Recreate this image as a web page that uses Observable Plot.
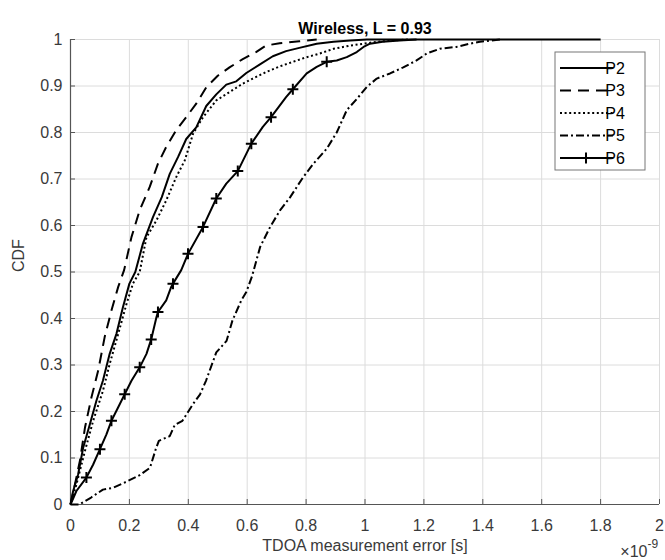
<!DOCTYPE html>
<html><head><meta charset="utf-8">
<script src="https://cdn.jsdelivr.net/npm/d3@7"></script>
<script src="https://cdn.jsdelivr.net/npm/@observablehq/plot@0.6"></script>
<style>
body{margin:0;background:#fff;}
#chart{width:665px;height:560px;overflow:hidden;}
</style>
</head><body><div id="chart"></div>
<script>
const titleText = "Wireless, L = 0.93";
const xLabelText = "TDOA measurement error [s]";
const yLabelText = "CDF";
const xExponentBase = "\u00d710";
const xExponent = "-9";
const xTicks = [0, 0.2, 0.4, 0.6, 0.8, 1, 1.2, 1.4, 1.6, 1.8, 2];
const yTicks = [0, 0.1, 0.2, 0.3, 0.4, 0.5, 0.6, 0.7, 0.8, 0.9, 1];
const seriesNames = ["P2", "P3", "P4", "P5", "P6"];

const p2 = [[0,0],[0.009,0.029],[0.026,0.065],[0.043,0.122],[0.066,0.173],[0.088,0.223],[0.11,0.266],[0.133,0.324],[0.156,0.367],[0.178,0.424],[0.2,0.475],[0.22,0.5],[0.246,0.561],[0.28,0.618],[0.31,0.661],[0.337,0.711],[0.365,0.747],[0.393,0.786],[0.427,0.811],[0.461,0.857],[0.495,0.882],[0.529,0.903],[0.563,0.91],[0.597,0.928],[0.642,0.946],[0.687,0.964],[0.732,0.975],[0.777,0.982],[0.836,0.991],[0.893,0.995],[0.95,0.998],[1.006,1.0],[1.8,1.0]];
const p3 = [[0,0],[0.015,0.043],[0.032,0.094],[0.049,0.165],[0.071,0.23],[0.094,0.288],[0.116,0.36],[0.139,0.417],[0.162,0.468],[0.182,0.504],[0.207,0.575],[0.235,0.633],[0.269,0.683],[0.297,0.733],[0.325,0.769],[0.359,0.805],[0.393,0.833],[0.427,0.862],[0.461,0.897],[0.5,0.922],[0.54,0.94],[0.585,0.958],[0.63,0.973],[0.664,0.987],[0.71,0.992],[0.777,0.996],[0.836,1.0]];
const p4 = [[0,0],[0.02,0.043],[0.049,0.115],[0.077,0.18],[0.11,0.244],[0.133,0.302],[0.162,0.367],[0.19,0.431],[0.212,0.475],[0.235,0.5],[0.258,0.575],[0.292,0.611],[0.325,0.654],[0.359,0.704],[0.388,0.74],[0.416,0.797],[0.45,0.833],[0.495,0.869],[0.54,0.887],[0.585,0.905],[0.619,0.916],[0.664,0.93],[0.71,0.942],[0.755,0.952],[0.802,0.962],[0.847,0.97],[0.893,0.98],[0.95,0.987],[0.995,0.991],[1.04,0.995],[1.096,0.998],[1.15,1.0]];
const p5 = [[0,0],[0.03,0.0],[0.07,0.015],[0.11,0.032],[0.145,0.036],[0.19,0.049],[0.235,0.063],[0.27,0.079],[0.29,0.12],[0.30,0.137],[0.337,0.147],[0.354,0.171],[0.38,0.18],[0.416,0.216],[0.44,0.237],[0.46,0.266],[0.495,0.327],[0.53,0.352],[0.55,0.396],[0.58,0.439],[0.597,0.457],[0.616,0.49],[0.644,0.554],[0.678,0.597],[0.712,0.633],[0.746,0.661],[0.79,0.704],[0.825,0.733],[0.87,0.765],[0.904,0.8],[0.938,0.848],[0.972,0.872],[1.006,0.898],[1.04,0.916],[1.085,0.927],[1.13,0.94],[1.175,0.955],[1.21,0.97],[1.254,0.98],[1.31,0.984],[1.356,0.991],[1.39,0.995],[1.46,1.0]];
const p6 = [[0,0],[0.02,0.029],[0.054,0.058],[0.077,0.086],[0.1,0.119],[0.122,0.151],[0.139,0.18],[0.162,0.209],[0.184,0.237],[0.207,0.266],[0.235,0.295],[0.258,0.324],[0.274,0.355],[0.292,0.403],[0.297,0.414],[0.325,0.439],[0.342,0.468],[0.348,0.475],[0.376,0.504],[0.399,0.539],[0.45,0.597],[0.495,0.658],[0.529,0.69],[0.568,0.717],[0.614,0.776],[0.653,0.812],[0.681,0.833],[0.732,0.876],[0.755,0.893],[0.802,0.927],[0.836,0.941],[0.87,0.952],[0.904,0.955],[0.938,0.962],[0.972,0.973],[0.995,0.984],[1.017,0.991],[1.06,0.995],[1.118,0.998],[1.175,1.0]];
const p6Markers = [[0.054,0.058],[0.1,0.119],[0.139,0.18],[0.184,0.237],[0.235,0.295],[0.274,0.355],[0.297,0.414],[0.348,0.475],[0.399,0.539],[0.45,0.597],[0.495,0.658],[0.568,0.717],[0.614,0.776],[0.681,0.833],[0.755,0.893],[0.87,0.952]];

const seriesData = [p2, p3, p4, p5, p6];
const dashes = ["none", "11,7", "2,2.6", "8,3,2,3", "none"];

const rows = [];
seriesData.forEach((arr, i) => arr.forEach(([x, y]) => rows.push({series: seriesNames[i], x, y})));
const markerRows = p6Markers.map(([x, y]) => ({x, y}));

const plusSymbol = {
  draw(context, size) {
    const r = Math.sqrt(size / Math.PI);
    context.moveTo(-r, 0); context.lineTo(r, 0);
    context.moveTo(0, -r); context.lineTo(0, r);
  }
};

const fmt = d => String(+d.toFixed(1));
const axisColor = "#3a3a3a";
const fontFamily = "'Liberation Sans', Arial, Helvetica, sans-serif";

const lineMarks = seriesNames.map((name, i) =>
  Plot.line(rows.filter(r => r.series === name), {
    x: "x", y: "y", stroke: "black", strokeWidth: 2,
    strokeDasharray: dashes[i] === "none" ? null : dashes[i],
    strokeLinecap: "butt", strokeLinejoin: "round"
  })
);

const chart = Plot.plot({
  width: 665, height: 560,
  marginLeft: 70, marginRight: 6, marginTop: 39, marginBottom: 56,
  x: {domain: [0, 2]},
  y: {domain: [0, 1]},
  style: {fontFamily, fontSize: "15px", color: axisColor, background: "white", overflow: "visible"},
  marks: [
    Plot.gridX(xTicks, {stroke: "#dcdcdc", strokeOpacity: 1, strokeWidth: 1}),
    Plot.gridY(yTicks, {stroke: "#dcdcdc", strokeOpacity: 1, strokeWidth: 1}),
    Plot.ruleY([0], {stroke: "#555", strokeWidth: 1.2}),
    Plot.ruleX([0], {stroke: "#555", strokeWidth: 1.2}),
    Plot.axisX(xTicks, {tickSize: 0, tickPadding: 15, tickFormat: fmt, label: null, fontSize: 16, fill: axisColor}),
    Plot.axisX(xTicks, {tickSize: -5, text: null, label: null, stroke: "#555"}),
    Plot.axisY(yTicks, {tickSize: 0, tickPadding: 8, tickFormat: fmt, label: null, fontSize: 16, fill: axisColor}),
    Plot.axisY(yTicks, {tickSize: -5, text: null, label: null, stroke: "#555"}),
    ...lineMarks,
    Plot.dot(markerRows, {x: "x", y: "y", symbol: plusSymbol, r: 5.5, stroke: "black", strokeWidth: 2, fill: "none"}),
    Plot.text([titleText], {frameAnchor: "top", dy: -17, fontWeight: "bold", fontSize: 16, fill: "black"}),
    Plot.text([xLabelText], {frameAnchor: "bottom", dy: 46, fontSize: 16, fill: axisColor}),
    Plot.text([yLabelText], {frameAnchor: "left", dx: -52, rotate: -90, fontSize: 16, fill: axisColor}),
    Plot.text([xExponentBase], {frameAnchor: "bottom-right", dx: -12, dy: 52, textAnchor: "end", fontSize: 16, fill: axisColor}),
    Plot.text([xExponent], {frameAnchor: "bottom-right", dx: -12, dy: 43, textAnchor: "start", fontSize: 12, fill: axisColor})
  ]
});

document.getElementById("chart").appendChild(chart);

// legend drawn inside the same SVG
const svg = d3.select(chart);
const lg = svg.append("g").attr("font-family", fontFamily).attr("font-size", 16);
const box = {x: 555, y: 52, w: 90, h: 118};
lg.append("rect").attr("x", box.x).attr("y", box.y).attr("width", box.w).attr("height", box.h)
  .attr("fill", "white").attr("stroke", "#777").attr("stroke-width", 1);
seriesNames.forEach((name, i) => {
  const cy = box.y + 16 + i * 22.5;
  lg.append("line").attr("x1", box.x + 5).attr("x2", box.x + 58).attr("y1", cy).attr("y2", cy)
    .attr("stroke", "black").attr("stroke-width", 2)
    .attr("stroke-dasharray", dashes[i] === "none" ? null : dashes[i]);
  if (name === "P6") {
    const mx = box.x + 31;
    lg.append("path").attr("d", `M${mx-5.5},${cy}H${mx+5.5}M${mx},${cy-5.5}V${cy+5.5}`)
      .attr("stroke", "black").attr("stroke-width", 2);
  }
  lg.append("text").attr("x", box.x + 60).attr("y", cy).attr("dy", "0.35em")
    .attr("fill", "black").text(name);
});
</script>
</body></html>
